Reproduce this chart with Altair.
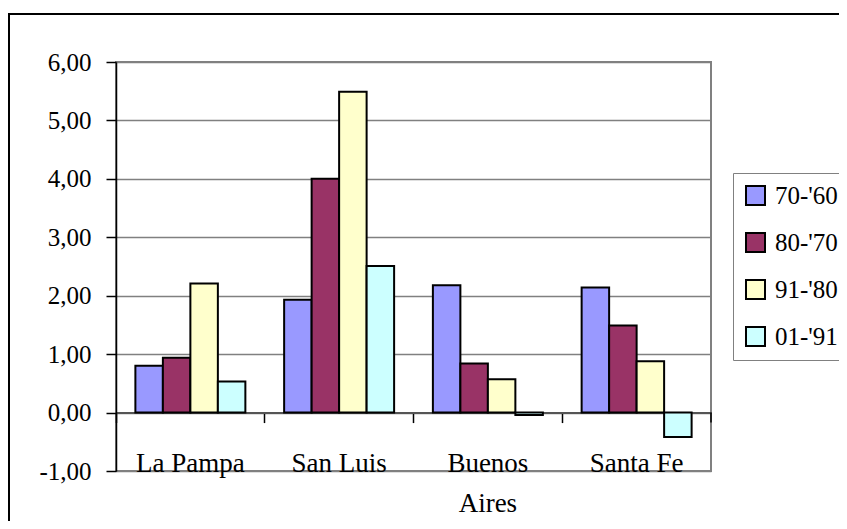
import altair as alt
import pandas as pd

categories = ["La Pampa", "San Luis", "Buenos Aires", "Santa Fe"]
series = ["70-'60", "80-'70", "91-'80", "01-'91"]
v70_60 = [0.80, 1.93, 2.18, 2.14]
v80_70 = [0.94, 4.00, 0.84, 1.49]
v91_80 = [2.21, 5.49, 0.57, 0.88]
v01_91 = [0.53, 2.51, -0.04, -0.42]
colors = ["#9999FF", "#993366", "#FFFFCC", "#CCFFFF"]
y_ticks = [-1, 0, 1, 2, 3, 4, 5, 6]

rows = []
for s, vals in zip(series, [v70_60, v80_70, v91_80, v01_91]):
    for c, v in zip(categories, vals):
        rows.append({"region": c, "period": s, "value": v})
df = pd.DataFrame(rows)

FONT = "Liberation Serif"
W, H = 595, 409
px_per_unit = H / 7.0
zero_offset = -px_per_unit  # move x axis up from -1 to 0

bars = alt.Chart(df).mark_bar(stroke="black", strokeWidth=2).encode(
    x=alt.X("region:N", sort=categories, title=None,
            scale=alt.Scale(paddingInner=0, paddingOuter=0),
            axis=alt.Axis(orient="bottom", offset=zero_offset, bandPosition=0,
                          domainColor="#555555", domainWidth=2,
                          tickColor="black", tickWidth=1.5, tickSize=10,
                          labelPadding=px_per_unit - 10, labelBaseline="alphabetic",
                          labelFont=FONT, labelFontSize=27, labelColor="black",
                          labelLineHeight=40, labelOverlap=False, labelAngle=0,
                          labelExpr="datum.value == 'Buenos Aires' ? ['Buenos', 'Aires'] : datum.value",
                          grid=False)),
    xOffset=alt.XOffset("period:N", sort=series,
                        scale=alt.Scale(paddingInner=0, paddingOuter=0.705)),
    y=alt.Y("value:Q", title=None,
            scale=alt.Scale(domain=[-1, 6], nice=False, zero=False),
            axis=alt.Axis(values=y_ticks, grid=True, gridColor="#808080", gridWidth=1.5,
                          domainColor="black", domainWidth=1.5,
                          tickColor="black", tickWidth=1.5, tickSize=10,
                          labelPadding=15, labelFont=FONT, labelFontSize=25,
                          labelColor="black",
                          labelExpr="replace(replace(format(datum.value, '.2f'), '.', ','), '\u2212', '-')")),
    color=alt.Color("period:N", sort=series,
                    scale=alt.Scale(domain=series, range=colors),
                    legend=alt.Legend(title=None, orient="none", legendX=617, legendY=111,
                                      symbolType="square", symbolSize=361,
                                      symbolStrokeColor="black", symbolStrokeWidth=2,
                                      labelFont=FONT, labelFontSize=25, labelColor="black",
                                      labelOffset=7, rowPadding=20, padding=10,
                                      strokeColor="#808080", fillColor="white")),
)

end_tick = alt.Chart(alt.Data(values=[{}])).mark_rule(color="black", strokeWidth=1.5).encode(
    x=alt.value(W), y=alt.datum(0), y2=alt.datum(-10 / px_per_unit)
)

frame = alt.Chart(alt.Data(values=[{}])).mark_rect(
    filled=False, stroke="black", strokeWidth=2, clip=False
).encode(
    x=alt.value(-107), x2=alt.value(900), y=alt.value(-48), y2=alt.value(700)
)

chart = alt.layer(frame, bars, end_tick).properties(
    width=W, height=H,
    autosize=alt.AutoSizeParams(type="none"),
    padding={"left": 108, "top": 54, "right": 128, "bottom": 50},
).configure(
    background="white", font=FONT
).configure_axis(
    labelFont=FONT
).configure_legend(
    labelFont=FONT
).configure_view(stroke="#808080", strokeWidth=2)

chart.save("out.html", embed_options={"renderer": "svg", "actions": False})
